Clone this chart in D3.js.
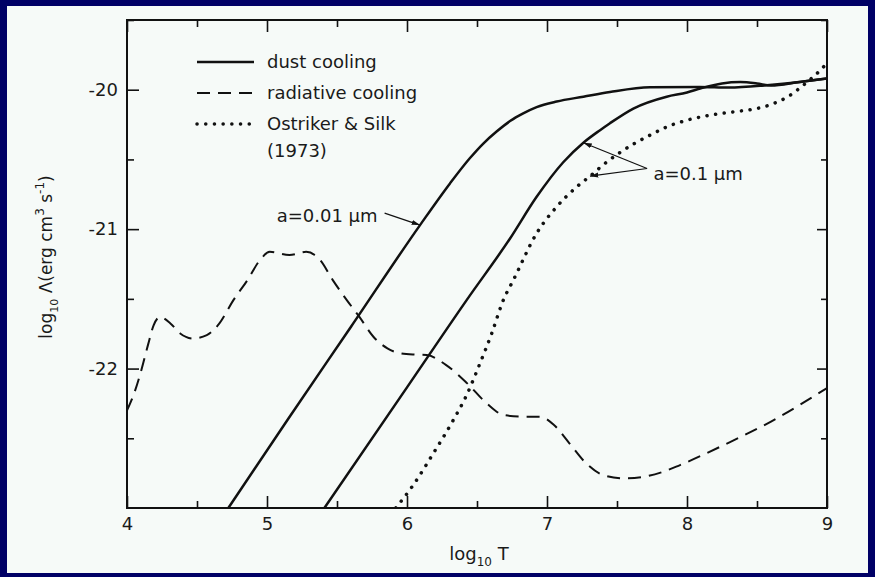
<!DOCTYPE html>
<meta charset="utf-8">
<head>
  <script src="https://cdn.jsdelivr.net/npm/d3@7"></script>
</head>
<style>
  body { margin: 0; background: #000066; }
  text { font-family: "DejaVu Sans", sans-serif; fill: #1a1a1a; }
  .axis path { display: none; }
  .axis line { stroke: #111; stroke-width: 1.6px; }
  .axis text { font-size: 18px; }
</style>
<body></body>
<script>
// log10 T  vs  log10 Lambda
var dustSmallT   = [4.724, 5.152, 5.6, 6.093, 6.307, 6.45, 6.545, 6.64, 6.736, 6.83, 6.926, 7.069, 7.26, 7.45, 7.736, 8.09, 8.3, 8.57, 8.81, 9.0];
var dustSmallLam = [-23, -22.36, -21.70, -20.971, -20.672, -20.49, -20.386, -20.3, -20.225, -20.17, -20.125, -20.085, -20.05, -20.016, -19.982, -19.98, -19.985, -19.968, -19.944, -19.92];

var dustBigT   = [5.41, 6.0, 6.426, 6.736, 6.926, 7.116, 7.26, 7.379, 7.45, 7.617, 7.855, 8.0, 8.1, 8.25, 8.38, 8.5, 8.6, 8.8, 9.0];
var dustBigLam = [-23, -22.135, -21.509, -21.067, -20.768, -20.52, -20.38, -20.29, -20.24, -20.135, -20.05, -20.02, -19.99, -19.955, -19.945, -19.955, -19.97, -19.945, -19.92];

var radT   = [4.0, 4.05, 4.1, 4.15, 4.19, 4.235, 4.31, 4.38, 4.47, 4.57, 4.66, 4.76, 4.86, 4.95, 5.02, 5.16, 5.28, 5.38, 5.47, 5.57, 5.66, 5.76, 5.86, 5.95, 6.06, 6.14, 6.28, 6.43, 6.57, 6.69, 6.83, 6.95, 7.05, 7.16, 7.28, 7.40, 7.55, 7.69, 7.83, 7.95, 8.28, 8.6, 9.0];
var radLam = [-22.30, -22.18, -22.02, -21.83, -21.69, -21.63, -21.676, -21.748, -21.784, -21.76, -21.676, -21.509, -21.366, -21.222, -21.163, -21.186, -21.163, -21.222, -21.366, -21.509, -21.629, -21.772, -21.855, -21.89, -21.90, -21.903, -21.975, -22.106, -22.25, -22.333, -22.345, -22.345, -22.405, -22.536, -22.68, -22.763, -22.787, -22.776, -22.74, -22.692, -22.54, -22.38, -22.14];

var osT   = [5.92, 6.045, 6.188, 6.331, 6.426, 6.521, 6.605, 6.688, 6.76, 6.926, 7.069, 7.212, 7.307, 7.4, 7.5, 7.617, 7.736, 7.855, 7.998, 8.164, 8.33, 8.498, 8.617, 8.736, 8.83, 8.94, 9.0];
var osLam = [-23, -22.835, -22.608, -22.369, -22.19, -21.963, -21.748, -21.509, -21.365, -21.03, -20.84, -20.697, -20.62, -20.54, -20.465, -20.39, -20.326, -20.267, -20.219, -20.183, -20.159, -20.135, -20.1, -20.04, -19.968, -19.872, -19.81];

var xMajor = [4, 5, 6, 7, 8, 9];
var xMinor = [4.5, 5.5, 6.5, 7.5, 8.5];
var yMajor = [-20, -21, -22];
var yMinor = [-19.5, -20.5, -21.5, -22.5];

var legendLabels = ["dust cooling", "radiative cooling", "Ostriker & Silk"];

var width = 875, height = 577;

var svg = d3.select("body").append("svg")
    .attr("width", width)
    .attr("height", height);

svg.append("rect")
    .attr("x", 7).attr("y", 6)
    .attr("width", 861).attr("height", 567)
    .attr("fill", "#f6faf8");

var x = d3.scaleLinear().domain([4, 9]).range([127, 827]);
var y = d3.scaleLinear().domain([-23, -19.5]).range([508, 20]);

svg.append("defs").append("clipPath").attr("id", "plot")
  .append("rect")
    .attr("x", x(4)).attr("y", y(-19.5))
    .attr("width", x(9) - x(4)).attr("height", y(-23) - y(-19.5));

// axes, ticks pointing inward on all four sides
function addAxis(axis, tx, ty, vals, size, labels) {
  var g = svg.append("g").attr("class", "axis")
      .attr("transform", "translate(" + tx + "," + ty + ")")
      .call(axis.tickValues(vals).tickSizeInner(-size).tickSizeOuter(0).tickPadding(9)
        .tickFormat(labels ? function(d) { return String(d); } : ""));
  return g;
}
addAxis(d3.axisBottom(x), 0, y(-23), xMajor, 12, true);
addAxis(d3.axisBottom(x), 0, y(-23), xMinor, 7, false);
addAxis(d3.axisTop(x), 0, y(-19.5), xMajor, 12, false);
addAxis(d3.axisTop(x), 0, y(-19.5), xMinor, 7, false);
addAxis(d3.axisLeft(y), x(4), 0, yMajor, 12, true);
addAxis(d3.axisLeft(y), x(4), 0, yMinor, 7, false);
addAxis(d3.axisRight(y), x(9), 0, yMajor, 10, false);
addAxis(d3.axisRight(y), x(9), 0, yMinor, 6, false);

svg.selectAll(".axis text").attr("fill", "#1a1a1a");

svg.append("rect")
    .attr("x", x(4)).attr("y", y(-19.5))
    .attr("width", x(9) - x(4)).attr("height", y(-23) - y(-19.5))
    .attr("fill", "none").attr("stroke", "#111").attr("stroke-width", 2);

var line = d3.line()
    .x(function(d) { return x(d[0]); })
    .y(function(d) { return y(d[1]); })
    .curve(d3.curveMonotoneX);

function pairs(a, b) { return a.map(function(v, i) { return [v, b[i]]; }); }

var plot = svg.append("g").attr("clip-path", "url(#plot)");

var solid = { dash: null, width: 2.5, cap: "butt" };
var dashed = { dash: "13,8", width: 2, cap: "butt" };
var dotted = { dash: "0.1,8.6", width: 3.5, cap: "round" };

function draw(d, st) {
  plot.append("path")
      .datum(d)
      .attr("d", line)
      .attr("fill", "none")
      .attr("stroke", "#111")
      .attr("stroke-width", st.width)
      .attr("stroke-linecap", st.cap)
      .attr("stroke-dasharray", st.dash);
}
draw(pairs(radT, radLam), dashed);
draw(pairs(osT, osLam), dotted);
draw(pairs(dustSmallT, dustSmallLam), solid);
draw(pairs(dustBigT, dustBigLam), solid);

// legend
var legStyles = [solid, dashed, dotted];
var leg = svg.append("g").attr("transform", "translate(197,62)");
legendLabels.forEach(function(lbl, i) {
  var st = legStyles[i];
  leg.append("line")
      .attr("x1", 0).attr("x2", 57)
      .attr("y1", i * 31).attr("y2", i * 31)
      .attr("stroke", "#111")
      .attr("stroke-width", st.width)
      .attr("stroke-linecap", st.cap)
      .attr("stroke-dasharray", st.dash);
  leg.append("text")
      .attr("x", 70).attr("y", i * 31)
      .attr("dy", "0.35em")
      .style("font-size", "18px")
      .text(lbl);
});
leg.append("text")
    .attr("x", 70).attr("y", 89)
    .attr("dy", "0.35em")
    .style("font-size", "18px")
    .text("(1973)");

// annotations with arrows
svg.append("defs").append("marker")
    .attr("id", "arr")
    .attr("viewBox", "0 0 10 10")
    .attr("refX", 10).attr("refY", 5)
    .attr("markerWidth", 7).attr("markerHeight", 7)
    .attr("orient", "auto")
  .append("path")
    .attr("d", "M0,2L10,5L0,8Z")
    .attr("fill", "#111");

function arrow(from, to) {
  svg.append("line")
      .attr("x1", x(from[0])).attr("y1", y(from[1]))
      .attr("x2", x(to[0])).attr("y2", y(to[1]))
      .attr("stroke", "#111").attr("stroke-width", 1.2)
      .attr("marker-end", "url(#arr)");
}

svg.append("text")
    .attr("x", x(5.79)).attr("y", y(-20.9))
    .attr("dy", "0.35em")
    .attr("text-anchor", "end")
    .style("font-size", "18px")
    .text("a=0.01 \u03bcm");
arrow([5.84, -20.885], [6.093, -20.971]);

svg.append("text")
    .attr("x", x(7.76)).attr("y", y(-20.6))
    .attr("dy", "0.35em")
    .style("font-size", "18px")
    .text("a=0.1 \u03bcm");
arrow([7.715, -20.565], [7.26, -20.38]);
arrow([7.715, -20.565], [7.307, -20.62]);

// axis titles
var xt = svg.append("text")
    .attr("x", 479).attr("y", 560)
    .attr("text-anchor", "middle")
    .style("font-size", "18px");
xt.append("tspan").text("log");
xt.append("tspan").attr("dy", 6).style("font-size", "12px").text("10");
xt.append("tspan").attr("dy", -6).text(" T");

var yt = svg.append("text")
    .attr("transform", "translate(52,257) rotate(-90)")
    .attr("text-anchor", "middle")
    .style("font-size", "17px");
yt.append("tspan").text("log");
yt.append("tspan").attr("dy", 6).style("font-size", "11px").text("10");
yt.append("tspan").attr("dy", -6).text(" \u039b(erg cm");
yt.append("tspan").attr("dy", -8).style("font-size", "12px").text("3");
yt.append("tspan").attr("dy", 8).text(" s");
yt.append("tspan").attr("dy", -8).style("font-size", "12px").text("-1");
yt.append("tspan").attr("dy", 8).text(")");
</script>
